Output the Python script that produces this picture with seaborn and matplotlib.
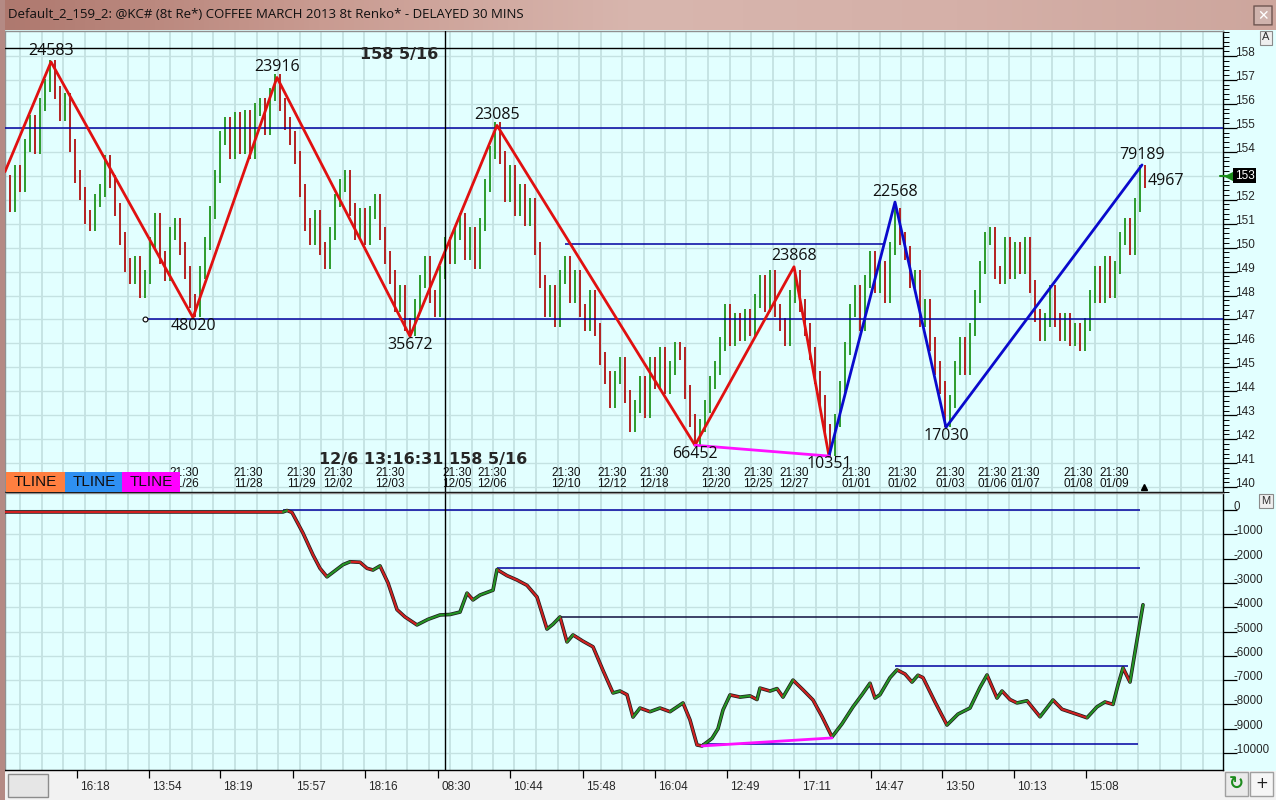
"""
咖啡期货 Renko 图(双面板)重绘
上: 价格 Renko 柱 + ZigZag; 下: 累积曲线
"""
import numpy as np
import pandas as pd
import seaborn as sns
import matplotlib
matplotlib.use('Agg')
import matplotlib.pyplot as plt
import matplotlib.transforms as mtransforms
from matplotlib.colors import LinearSegmentedColormap
from matplotlib.patches import Rectangle, FancyBboxPatch

# ==================== 数据 ====================
TITLE = "Default_2_159_2: @KC# (8t Re*) COFFEE MARCH 2013 8t Renko* - DELAYED 30 MINS"

# Renko 柱收盘价 (每根柱一个值)
closes = [
    152.8, 151.8, 153.2, 152.6, 154.3, 155.3, 154.2, 156.0, 156.8, 157.6,
    156.5, 155.6, 156.2, 154.3, 153.0, 152.3, 151.3, 151.0, 152.0, 152.4,
    153.6, 152.8, 151.6, 150.4, 149.3, 148.8, 149.4, 148.2, 148.8, 150.2,
    151.2, 149.6, 148.9, 150.6, 151.0, 150.0, 149.0, 147.8, 147.4,
    149.0, 150.2, 151.5, 153.0, 154.6, 155.2, 154.0, 155.4, 154.2, 155.5,
    154.0, 155.8, 156.0, 155.0, 156.4, 157.0,
    156.0, 155.2, 154.6, 153.8, 152.4, 151.0, 150.4, 151.3, 150.0, 149.4,
    150.6, 152.0, 152.6, 153.0, 151.6, 150.6, 151.4, 150.4, 151.5, 152.0,
    150.6, 149.6, 148.8, 147.6, 148.2, 146.8, 146.6,
    147.6, 148.6, 149.4, 148.0, 147.4, 149.0, 150.2, 149.6, 150.6, 151.2,
    149.8, 150.6, 149.4, 151.0, 152.6, 154.0, 155.0,
    153.8, 152.2, 153.2, 151.6, 152.4, 151.2, 151.8, 150.0, 148.6, 147.4,
    148.2, 147.0, 148.8, 149.4, 148.0, 148.8, 147.4, 146.8, 148.0, 146.6,
    145.4, 144.6, 143.6, 144.6, 145.2, 143.8, 142.6, 143.4, 144.4, 143.2,
    145.2, 144.4, 145.6, 144.2, 145.0, 145.8, 145.6, 144.0, 142.8, 142.0,
    142.6, 143.4, 144.4, 145.0, 146.0, 147.4, 146.2, 147.0, 146.4, 147.2,
    146.6, 147.8, 148.6, 147.6, 148.8, 147.4, 146.8, 146.2, 148.0, 148.8,
    147.6, 146.6, 145.6, 144.6, 143.6, 142.4, 141.6,
    142.8, 144.2, 145.8, 147.4, 148.2, 146.8, 148.6, 149.6, 148.4, 149.2,
    148.0, 150.0, 151.4,
    150.4, 149.8, 148.6, 148.8, 147.0, 147.6, 146.0, 145.0, 144.2, 142.8,
    143.6, 145.0, 146.0, 145.0, 146.6, 148.0, 149.2, 150.4, 150.6, 149.0,
    148.8, 150.2, 149.0, 150.0, 149.2, 150.2, 148.4, 147.2, 146.4, 147.0,
    148.2, 147.0, 146.4, 147.0, 146.2, 146.6, 146.0, 146.8, 148.0, 149.0,
    148.0, 149.4, 148.2, 149.2, 150.4, 151.0, 150.0, 151.8, 153.2, 152.8,
]

# ZigZag 拐点
pivot_x = [0, 9.2, 37.6, 54.4, 81, 98.4, 138, 157.8, 164.8, 178, 188.2, 227.4]
pivot_y = [153.17, 157.75, 147.08, 157.1, 146.3, 155.1, 141.75, 149.2, 141.3, 151.9, 142.5, 153.45]
pivot_text = ['', '24583', '48020', '23916', '35672', '23085', '66452', '23868',
              '10351', '22568', '17030', '79189']
pivot_side = ['', 'up', 'dn', 'up', 'dn', 'up', 'dn', 'up', 'dn', 'up', 'dn', 'up']

# 上面板水平线
level_y = [155.0, 147.0, 150.15]
level_x0 = [0, 28, 112]
level_x1 = [243.6, 243.6, 176]

# 上面板日期标签
top_dates = ['11/26', '11/28', '11/29', '12/02', '12/03', '12/05', '12/06', '12/10',
             '12/12', '12/18', '12/20', '12/25', '12/27', '01/01', '01/02', '01/03',
             '01/06', '01/07', '01/08', '01/09']
top_date_x = [35.8, 48.6, 59.2, 66.6, 77, 90.4, 97.4, 112.2, 121.4, 129.8, 142.2,
              150.6, 157.8, 170.2, 179.4, 189, 197.4, 204, 214.6, 221.8]

# 下面板曲线
eq_x = [0, 55.6, 56.4, 57.4, 59.6, 61.6, 63, 64.4, 66, 67.6, 69, 71, 72.4, 73.6, 75,
        76.6, 78.4, 80, 82.4, 84.6, 87, 89, 91, 92.4, 93.6, 95, 97.6, 98.4, 100.4, 102.4,
        104.4, 106.4, 108.4, 109.6, 111, 112.4, 113.6, 115.6, 117.6, 119.6, 121.6, 123,
        124.4, 125.6, 127, 129, 131, 133, 135.6, 137, 138.4, 139.4, 141.4, 142.6, 143.6,
        145, 147, 149, 150.4, 151, 153, 154.4, 155.6, 157.6, 159.6, 161.6, 163.4, 165.4,
        167.4, 169.6, 171.4, 173, 174, 175, 177, 178.4, 180, 181.4, 182.6, 183.6, 186,
        188.4, 190.6, 193, 195, 196.4, 198.4, 199.4, 201, 202.4, 204.4, 207, 209.6, 211.4,
        213, 215, 216.4, 218.4, 220, 221.6, 222.6, 223.6, 225, 226.2, 227.6]
eq_y = [-80, -80, -20, -100, -950, -1850, -2400, -2750, -2500, -2250, -2130, -2150,
        -2400, -2470, -2300, -3000, -4100, -4400, -4730, -4500, -4320, -4300, -4200,
        -3420, -3700, -3500, -3300, -2450, -2700, -2880, -3100, -3580, -4900, -4700,
        -4400, -5430, -5140, -5400, -5630, -6600, -7530, -7450, -7600, -8520, -8150,
        -8300, -8150, -8300, -7940, -8640, -9670, -9710, -9400, -9000, -8230, -7610,
        -7700, -7650, -7800, -7330, -7450, -7350, -7700, -7000, -7400, -7820, -8500,
        -9340, -8800, -8100, -7600, -7130, -7740, -7600, -6900, -6580, -6750, -7080,
        -6800, -6900, -7900, -8850, -8400, -8150, -7300, -6790, -7740, -7450, -7800,
        -7940, -7850, -8510, -7820, -8200, -8310, -8450, -8550, -8100, -7900, -8000,
        -7200, -6500, -7080, -5600, -3900]

eq_level_y = [0, -2400, -4400, -6400, -9650]
eq_level_x0 = [55.6, 98.4, 111, 178, 139.4]
eq_level_x1 = [227, 227, 226.6, 224.6, 226.6]
eq_level_c = ['#0000A0', '#0000A0', '#101040', '#0000A0', '#0000A0']
eq_div = [(139.4, -9710), (165.4, -9380)]

# 底部时间轴
time_x = [14.4, 28.8, 43, 57.6, 72, 86.6, 101, 115.6, 130, 144.4, 158.8, 173.2,
          187.4, 201.8, 216.2]
time_labels = ['16:18', '13:54', '18:19', '15:57', '18:16', '08:30', '10:44', '15:48',
               '16:04', '12:49', '17:11', '14:47', '13:50', '10:13', '15:08']

cross_x = 88
cross_y = 158.3125
last_price = 153

# ==================== 全局配置 ====================
sns.set_theme(style='white')
plt.rcParams['font.family'] = ['Liberation Sans', 'DejaVu Sans']

FIG_W, FIG_H = 1276, 800
BG = '#E2FFFF'
GRID = '#C4E2E2'
UP_C = '#2C9C2C'
DN_C = '#B42020'


def fx(px):
    return px / FIG_W


def fy(py):
    return 1 - py / FIG_H


fig = plt.figure(figsize=(FIG_W / 100, FIG_H / 100), dpi=100, facecolor=BG)
ax = fig.add_axes([fx(5), fy(492), fx(1223) - fx(5), fy(31) - fy(492)], facecolor=BG)
ax2 = fig.add_axes([fx(5), fy(770), fx(1223) - fx(5), fy(493) - fy(770)], facecolor=BG)
XMAX = (1223 - 5) / 5

for a in (ax, ax2):
    a.set_xlim(0, XMAX)
    for gx in np.arange(3.0, XMAX, 4.3):
        a.axvline(gx, color=GRID, lw=1.3, zorder=0)
    for side in ('left', 'top'):
        a.spines[side].set_color('#909090')
    for side in ('right', 'bottom'):
        a.spines[side].set_color('black')
    for s in a.spines.values():
        s.set_linewidth(1.0)
ax.set_ylim(139.83, 159.04)
ax2.set_ylim(-10700, 700)
for gy in range(140, 159):
    ax.axhline(gy, color=GRID, lw=1.0, zorder=0)
for gy in range(-10000, 1, 1000):
    ax2.axhline(gy, color=GRID, lw=1.0, zorder=0)

# ---- Renko 柱 ----
c = np.array(closes)
o = np.r_[c[0], c[:-1]]
lo = np.minimum(o, c) - 0.3
hi = np.maximum(o, c) + 0.25
up = c > o
idx = np.arange(len(c))
ax.vlines(idx[up], lo[up], hi[up], color=UP_C, lw=1.4, zorder=2)
ax.vlines(idx[~up], lo[~up], hi[~up], color=DN_C, lw=1.4, zorder=2)

# ---- 水平线 / 十字线 ----
ax.hlines(level_y, level_x0, level_x1, color='#0000A0', lw=1.1, zorder=3)
ax.plot(level_x0[1], level_y[1], 'o', ms=3.5, mfc='white', mec='black', mew=0.8, zorder=5)
ax.axhline(cross_y, color='black', lw=1, zorder=5)
ax.axvline(cross_x, color='black', lw=1, zorder=5)
ax2.axvline(cross_x, color='black', lw=1, zorder=5)

# ---- ZigZag ----
sns.lineplot(x=pivot_x[:9], y=pivot_y[:9], color='#E01010', lw=2, ax=ax,
             sort=False, estimator=None, zorder=4)
sns.lineplot(x=pivot_x[8:], y=pivot_y[8:], color='#0A0ACC', lw=2, ax=ax,
             sort=False, estimator=None, zorder=4)
sns.lineplot(x=[pivot_x[6], pivot_x[8]], y=[pivot_y[6], pivot_y[8]], color='#FF10FF',
             lw=2, ax=ax, sort=False, estimator=None, zorder=4)

for px_, py_, t, sd in zip(pivot_x, pivot_y, pivot_text, pivot_side):
    if not t:
        continue
    dy = 7.5 if sd == 'up' else -6.0
    ax.annotate(t, (px_, py_), xytext=(0, dy), textcoords='offset points',
                ha='center', va='center', fontsize=11.5, family=['Open Sans', 'DejaVu Sans'],
                color='#101010', zorder=6)
ax.text(228.6, 152.8, '4967', ha='left', va='center', fontsize=11.5,
        family=['Open Sans', 'DejaVu Sans'], color='#101010', zorder=6)
ax.plot(227.8, 140.0, marker='^', ms=4, color='black', clip_on=False, zorder=6)

# ---- 十字线读数 ----
ax.text(86.6, 158.05, '158 5/16', ha='right', va='center', fontsize=11.5,
        family='DejaVu Sans', fontweight='bold', zorder=6)
ax.text(83.6, 141.17, '12/6 13:16:31 158 5/16', ha='center', va='center', fontsize=11.5,
        family='DejaVu Sans', fontweight='bold', zorder=6)

# ---- 上面板日期 ----
tb_top = mtransforms.blended_transform_factory(ax.transData, ax.transAxes)
for x_, d in zip(top_date_x, top_dates):
    ax.text(x_, 0.004, '21:30\n' + d, transform=tb_top, ha='center', va='bottom',
            fontsize=8.5, linespacing=0.95, color='#101010', zorder=6)

# ---- 右侧坐标轴 ----
ax.set_xticks([])
ax.yaxis.tick_right()
ax.set_yticks(range(140, 159))
ax.set_yticks(np.arange(139.8, 159.01, 0.2), minor=True)
ax.tick_params(axis='y', which='both', right=True, left=False, labelright=False,
               labelleft=False, direction='out', color='black')
ax.tick_params(axis='y', which='major', length=10, width=0.9)
ax.tick_params(axis='y', which='minor', length=4, width=0.7)
ty = mtransforms.blended_transform_factory(ax.transAxes, ax.transData)
for v in range(140, 159):
    if v == last_price:
        continue  # 被最新价标记遮住
    ax.text(1.0095, v, str(v), transform=ty, ha='left', va='baseline', fontsize=8.5,
            clip_on=False)

# 最新价标记
ax.plot([0.9975, 1.004], [last_price, last_price], color='#1A8C1A', lw=1.5,
        transform=ty, clip_on=False, zorder=6)
ax.plot([1.0066], [last_price], marker='<', ms=9, color='#1A8C1A', transform=ty,
        clip_on=False, zorder=7)
ax.text(1.0098, last_price, str(last_price), transform=ty, ha='left', va='center',
        fontsize=8.5, color='white', clip_on=False, zorder=8,
        bbox=dict(boxstyle='square,pad=0.15', fc='black', ec='none'))

# ---- 下面板曲线 ----
seg_rows = []
for i in range(len(eq_x) - 1):
    d = 'up' if eq_y[i + 1] > eq_y[i] else 'down'
    seg_rows.append({'seg': i, 'x': eq_x[i], 'y': eq_y[i], 'dir': d})
    seg_rows.append({'seg': i, 'x': eq_x[i + 1], 'y': eq_y[i + 1], 'dir': d})
seg_df = pd.DataFrame(seg_rows)

sns.lineplot(x=eq_x, y=eq_y, color='#202020', lw=2.6, ax=ax2, sort=False,
             estimator=None, zorder=3)
sns.lineplot(data=seg_df, x='x', y='y', hue='dir', units='seg', estimator=None,
             palette={'up': '#249424', 'down': '#D02020'}, lw=1.5, ax=ax2,
             legend=False, zorder=4)
ax2.hlines(eq_level_y, eq_level_x0, eq_level_x1, colors=eq_level_c, lw=1.1, zorder=2)
sns.lineplot(x=[eq_div[0][0], eq_div[1][0]], y=[eq_div[0][1], eq_div[1][1]],
             color='#FF10FF', lw=2, ax=ax2, sort=False, estimator=None, zorder=5)
ax2.set_xlabel('')
ax2.set_ylabel('')
ax.set_xlabel('')
ax.set_ylabel('')

ax2.yaxis.tick_right()
ax2.set_yticks(range(-10000, 1, 1000))
ax2.tick_params(axis='y', which='major', right=True, left=False, labelright=False,
                labelleft=False, direction='out', length=10, width=0.9, color='black')
ty2 = mtransforms.blended_transform_factory(ax2.transAxes, ax2.transData)
for v in range(-10000, 1, 1000):
    ax2.text(1.009, v, str(v), transform=ty2, ha='left', va='baseline', fontsize=8.3,
             clip_on=False)

ax2.set_xticks(time_x)
ax2.set_xticklabels([])
ax2.tick_params(axis='x', bottom=True, direction='out', length=6, width=0.9, color='black')
tx2 = mtransforms.blended_transform_factory(ax2.transData, ax2.transAxes)
for x_, t in zip(time_x, time_labels):
    ax2.text(x_ + 0.7, -0.062, t, transform=tx2, ha='left', va='center', fontsize=8.5,
             clip_on=False)

# ---- 窗口装饰 ----
fig.add_artist(Rectangle((0, 0), 1, fy(771), transform=fig.transFigure,
                         facecolor='#F2F2F2', edgecolor='none', zorder=-1))
fig.add_artist(Rectangle((fx(8), fy(797)), fx(40), 23 / FIG_H, transform=fig.transFigure,
                         facecolor='#E6E6E6', edgecolor='#8C8C8C', lw=1, zorder=2))
fig.add_artist(Rectangle((fx(1225), fy(796)), fx(23), 24 / FIG_H, transform=fig.transFigure,
                         facecolor='#EAEAEA', edgecolor='#A0A0A0', lw=1, zorder=2))
fig.add_artist(Rectangle((fx(1250), fy(796)), fx(23), 24 / FIG_H, transform=fig.transFigure,
                         facecolor='#F6F6F6', edgecolor='#A0A0A0', lw=1, zorder=2))
fig.text(fx(1236.5), fy(784), '\u21bb', ha='center', va='center', fontsize=13,
         color='#1E8C1E', family='DejaVu Sans', fontweight='bold', zorder=3)
fig.text(fx(1261.5), fy(784), '+', ha='center', va='center', fontsize=11,
         color='#202020', family='DejaVu Sans', zorder=3)

fig.add_artist(Rectangle((0, 0), fx(5), 1, transform=fig.transFigure,
                         facecolor='#B48A84', edgecolor='none', zorder=3))

# TLINE 按钮
for x0, col in zip([6, 65, 122], ['#FF7F40', '#2E90F2', '#FF00FF']):
    fig.add_artist(Rectangle((fx(x0), fy(492)), fx(58 if x0 != 6 else 59), 20 / FIG_H,
                             transform=fig.transFigure, facecolor=col, edgecolor='none',
                             zorder=5))
    fig.text(fx(x0 + 29), fy(482), 'TLINE', ha='center', va='center', fontsize=11,
             color='#101010', zorder=6)

for yy, t in [(37.5, 'A'), (501.5, 'M')]:
    fig.text(fx(1266), fy(yy), t, ha='center', va='center', fontsize=8, color='#303030',
             bbox=dict(boxstyle='square,pad=0.18', fc='#EFEFEF', ec='#8A8A8A', lw=0.8),
             zorder=6)

# 标题栏
tb = fig.add_axes([0, fy(30), 1, 30 / FIG_H])
cmap = LinearSegmentedColormap.from_list('tb', ['#AE786E', '#C99B91', '#D8B6AE',
                                                '#D5B0A8', '#CDA69D'])
grad = np.linspace(0, 1, 256)[None, :]
tb.imshow(grad, aspect='auto', cmap=cmap, extent=[0, 1, 0, 1])
tb.set_xlim(0, 1)
tb.set_ylim(0, 1)
tb.axis('off')
tb.text(8 / FIG_W, 0.5, TITLE, ha='left', va='center', fontsize=9.5,
        family=['Open Sans', 'DejaVu Sans'], color='#101010')
tb.add_patch(FancyBboxPatch((1254 / FIG_W, 0.17), 18 / FIG_W, 0.63,
                            boxstyle='round,pad=0,rounding_size=0.004',
                            facecolor='#CFB3AD', edgecolor='#6E5550', lw=1,
                            mutation_aspect=30 / FIG_W * FIG_H / 30))
tb.text(1263 / FIG_W, 0.48, '\u2715', ha='center', va='center', fontsize=10,
        color='white', family='DejaVu Sans', fontweight='bold')

fig.savefig('out.png', dpi=100, facecolor=fig.get_facecolor())
plt.close('all')
